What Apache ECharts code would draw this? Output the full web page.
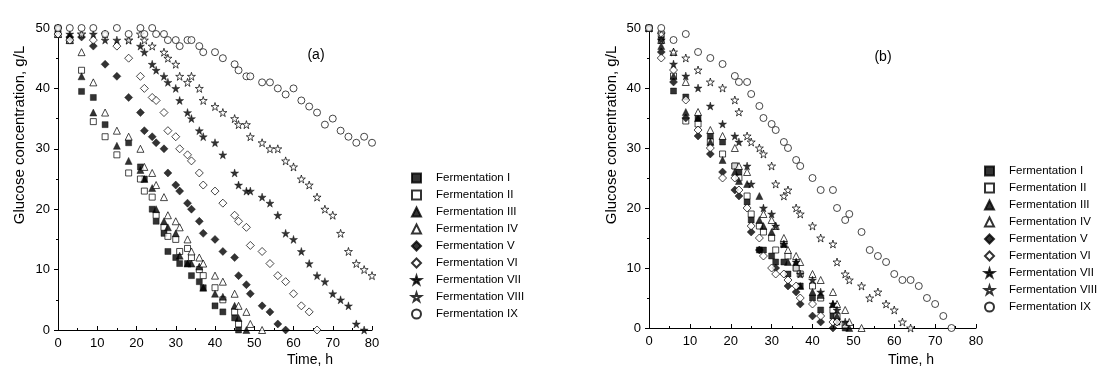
<!DOCTYPE html>
<html><head><meta charset="utf-8">
<script src="https://cdn.jsdelivr.net/npm/echarts@6/dist/echarts.min.js"></script>
<style>html,body{margin:0;padding:0;background:#fff}#c{width:1097px;height:372px}</style>
</head><body><div id="c"></div>
<script>
const seriesNames = ['Fermentation I','Fermentation II','Fermentation III','Fermentation IV','Fermentation V','Fermentation VI','Fermentation VII','Fermentation VIII','Fermentation IX'];
const xTicks = [0,10,20,30,40,50,60,70,80];
const yTicks = [0,10,20,30,40,50];
const panelLabels = ['(a)','(b)'];
const xTitle = 'Time, h';
const yTitle = 'Glucose concentration, g/L';

// Panel (a): [time h, glucose g/L]
const aI = [[0,50],[3,48],[6,39.5],[9,38.5],[12,34],[18,31],[21,27],[22,25],[24,20],[25,18],[27,16],[28,13],[30,12],[31,11],[33,11],[34,9],[36,8],[37,7],[40,4],[42,3],[45,2],[46,0]];
const aII = [[0,49],[3,48],[6,43],[9,34.5],[12,32],[15,29],[18,26],[21,25],[22,23],[24,22],[25,19],[27,17],[28,15.5],[30,15],[31,13],[33,13.5],[34,12],[36,10],[37,9],[40,7],[42,5],[45,3],[46,1]];
const aIII = [[0,49],[3,48],[6,42],[9,36],[15,30.5],[18,28],[21,26.5],[22,25],[24,23.5],[25,20],[27,18],[28,17],[30,16],[31,12.3],[33,11],[34,11],[36,10.5],[37,7],[40,6],[42,5.5],[45,4],[46,2],[48,0]];
const aIV = [[0,49],[3,48],[6,46],[9,41],[12,36],[15,33],[18,32],[21,30],[22,27],[24,26],[25,24],[27,22],[28,19],[30,18],[31,17],[33,15],[34,13],[36,12],[37,11],[40,9],[42,8],[45,6],[46,4],[48,3],[49,1],[52,0]];
const aV = [[0,50],[3,48.5],[6,48.5],[9,47],[12,44],[15,42],[18,38.5],[21,36],[22,33],[24,32],[25,31],[27,30],[28,26],[30,24],[31,23],[33,21],[34,20],[36,18],[37,16],[40,15],[42,13],[45,12],[46,9],[48,7.5],[49,6],[52,4],[54,3],[56,1],[58,0]];
const aVI = [[0,49],[3,48],[9,48],[15,47],[18,45],[21,42],[22,40],[24,38.5],[25,38],[27,36],[28,33],[30,32],[31,30],[33,29],[34,28],[36,26],[37,24],[40,23],[42,21],[45,19],[46,18],[48,17],[49,14],[52,13],[54,11],[56,9],[58,8],[60,6],[62,4],[64,3],[66,0]];
const aVII = [[0,50],[3,49],[6,49],[9,49],[12,48],[15,48],[18,48],[21,47],[22,46],[24,44],[25,43],[27,42],[28,41],[30,40],[31,38],[33,36],[34,35],[36,33],[37,32],[40,31],[42,29],[45,26],[46,24],[48,23],[49,23],[52,22],[54,21],[56,19],[58,16],[60,15],[62,13],[64,11],[66,9],[68,8],[70,6],[72,5],[74,4],[76,1],[78,0]];
const aVIII = [[0,50],[6,49],[12,49],[18,48],[21,49],[22,48],[24,47],[27,46],[28,45],[30,44],[31,42],[33,41],[34,42],[36,40],[37,38],[40,37],[42,36],[45,35],[46,34],[48,34],[49,32],[52,31],[54,30],[56,30],[58,28],[60,27],[62,25],[64,24],[66,22],[68,20],[70,19],[72,16],[74,13],[76,11],[78,10],[80,9]];
const aIX = [[0,50],[3,50],[6,50],[9,50],[12,49],[15,50],[18,49],[21,50],[22,49],[24,50],[25,49],[27,49],[28,48],[30,48],[31,47],[33,48],[34,48],[36,47],[37,46],[40,46],[42,45],[45,44],[46,43],[48,42],[49,42],[52,41],[54,41],[56,40],[58,39],[60,40],[62,38],[64,37],[66,36],[68,34],[70,35],[72,33],[74,32],[76,31],[78,32],[80,31]];

// Panel (b)
const bI = [[0,50],[3,48],[6,39.5],[9,38.5],[12,35],[15,32],[18,31],[21,27],[22,26],[24,21],[25,18],[27,13],[28,13],[30,12],[31,11],[33,11],[34,9],[36,10],[37,7],[40,5],[42,3],[45,2],[46,1],[48,0]];
const bII = [[0,50],[3,49],[6,42],[9,34.5],[12,34],[15,31],[18,29],[21,27],[22,25],[24,22],[25,19],[27,17],[28,16],[30,15],[31,13],[33,14],[34,12],[36,10],[37,9],[40,7],[42,5],[45,3],[46,2],[48,0.5]];
const bIII = [[0,50],[3,47],[6,42],[9,36],[12,35],[15,31],[18,28],[21,26],[22,24.5],[24,24],[27,22],[27,18],[28,17],[30,16],[33,14],[34,11],[36,11],[37,7],[40,6],[42,5.5],[45,4],[46,2],[49,0]];
const bIV = [[0,50],[3,48],[6,46],[9,41],[12,36],[15,33],[18,32],[21,30],[22,27],[24,26],[28,19],[30,18],[31,17],[33,15],[34,13],[36,12],[37,11],[40,9],[42,8],[45,6],[46,4],[48,3],[49,1],[52,0]];
const bV = [[0,50],[3,46],[6,41],[9,35],[12,32],[15,29],[18,26],[21,23],[22,22],[25,16],[27,13],[31,10],[34,7],[36,6],[37,4],[40,2],[42,1],[45,0]];
const bVI = [[0,50],[3,45],[6,43],[9,38],[12,33],[15,30],[18,25],[21,25],[22,23],[24,20],[25,17],[27,15],[28,12],[30,10],[31,9],[33,9],[34,8],[36,7],[37,5],[40,4],[42,2],[45,1],[46,1]];
const bVII = [[0,50],[3,48],[6,44],[9,42],[12,40],[15,37],[18,34],[21,32],[22,31],[24,27],[25,24],[28,20],[30,19],[31,17],[33,14],[36,11],[37,9],[40,8],[42,6],[45,4],[46,3],[48,1]];
const bVIII = [[0,50],[3,49],[6,46],[9,45],[12,43],[15,41],[18,40],[21,38],[22,36],[24,32],[25,31],[27,30],[28,29],[30,27],[31,24],[33,22],[34,23],[36,20],[37,19],[40,17],[42,15],[45,14],[46,11],[48,9],[49,8],[52,7],[54,5],[56,6],[58,4],[60,3],[62,1],[64,0]];
const bIX = [[0,50],[3,50],[6,48],[9,49],[12,46],[15,45],[18,44],[21,42],[22,41],[24,41],[25,39],[27,37],[28,35],[30,34],[31,33],[33,31],[34,30],[36,28],[37,27],[40,25],[42,23],[45,23],[46,20],[48,18],[49,19],[52,16],[54,13],[56,12],[58,11],[60,9],[62,8],[64,8],[66,7],[68,5],[70,4],[72,2],[74,0]];

const panelA = [aI,aII,aIII,aIV,aV,aVI,aVII,aVIII,aIX];
const panelB = [bI,bII,bIII,bIV,bV,bVI,bVII,bVIII,bIX];

const STAR = 'path://M50,0 L61,35 L98,35 L68,57 L79,91 L50,70 L21,91 L32,57 L2,35 L39,35 Z';
const styles = [
  {symbol:'rect', size:6, filled:true},
  {symbol:'rect', size:6, filled:false},
  {symbol:'triangle', size:7, filled:true},
  {symbol:'triangle', size:7, filled:false},
  {symbol:'diamond', size:8, filled:true},
  {symbol:'diamond', size:8, filled:false},
  {symbol:STAR, size:8, filled:true},
  {symbol:STAR, size:8, filled:false},
  {symbol:'circle', size:7, filled:false}
];
const FONT = "'Liberation Sans', Arial, sans-serif";

function mkSeries(data, i, gi){
  const s = styles[i];
  return {
    type:'scatter', name:seriesNames[i], xAxisIndex:gi, yAxisIndex:gi,
    data:data, symbol:s.symbol, symbolSize:s.size, clip:false,
    itemStyle: s.filled ? {color:'#000', borderColor:'#000', borderWidth:0.5}
                        : {color:'#fff', borderColor:'#000', borderWidth:0.9},
    emphasis:{disabled:true}
  };
}
function mkX(gi){
  return {gridIndex:gi, type:'value', min:xTicks[0], max:xTicks[xTicks.length-1], interval:10,
    axisLine:{lineStyle:{color:'#000', width:1}},
    axisTick:{inside:true, length:4, lineStyle:{color:'#000'}},
    minorTick:{show:true, splitNumber:2, length:2, lineStyle:{color:'#000'}},
    axisLabel:{fontFamily:FONT, fontSize:13, color:'#000', margin:7},
    splitLine:{show:false}};
}
function mkY(gi){
  return {gridIndex:gi, type:'value', min:yTicks[0], max:yTicks[yTicks.length-1], interval:10,
    axisLine:{show:true, lineStyle:{color:'#000', width:1}},
    axisTick:{show:true, inside:false, length:4, lineStyle:{color:'#000'}},
    minorTick:{show:true, splitNumber:2, length:2, lineStyle:{color:'#000'}},
    axisLabel:{fontFamily:FONT, fontSize:13, color:'#000', margin:8},
    splitLine:{show:false}};
}
function mkLegend(left, top){
  return {orient:'vertical', left:left, top:top, itemWidth:9, itemHeight:9, itemGap:5,
    data:seriesNames, selectedMode:false,
    textStyle:{fontFamily:FONT, fontSize:11.5, color:'#000', lineHeight:12, padding:[0,0,0,10]}};
}
function mkText(txt, x, y, size, rot){
  return {type:'text', x:x, y:y, rotation:rot||0,
    style:{text:txt, font:size+'px '+FONT, fill:'#000', align:'center', verticalAlign:'middle'}};
}

const chart = echarts.init(document.getElementById('c'), null, {renderer:'canvas'});
const series = [];
panelA.forEach((d,i)=>series.push(mkSeries(d,i,0)));
panelB.forEach((d,i)=>series.push(mkSeries(d,i,1)));
chart.setOption({
  animation:false,
  backgroundColor:'#fff',
  grid:[{left:58, top:28, width:314, height:302},
        {left:649, top:28, width:327, height:300}],
  xAxis:[mkX(0), mkX(1)],
  yAxis:[mkY(0), mkY(1)],
  legend:[mkLegend(406,167), mkLegend(979,160)],
  graphic:[
    mkText(panelLabels[0], 316, 55, 14),
    mkText(panelLabels[1], 883, 57, 14),
    mkText(xTitle, 310, 360, 14),
    mkText(xTitle, 911, 360, 14),
    mkText(yTitle, 20, 135, 15, Math.PI/2),
    mkText(yTitle, 612, 135, 15, Math.PI/2)
  ],
  series:series
});
</script></body></html>
